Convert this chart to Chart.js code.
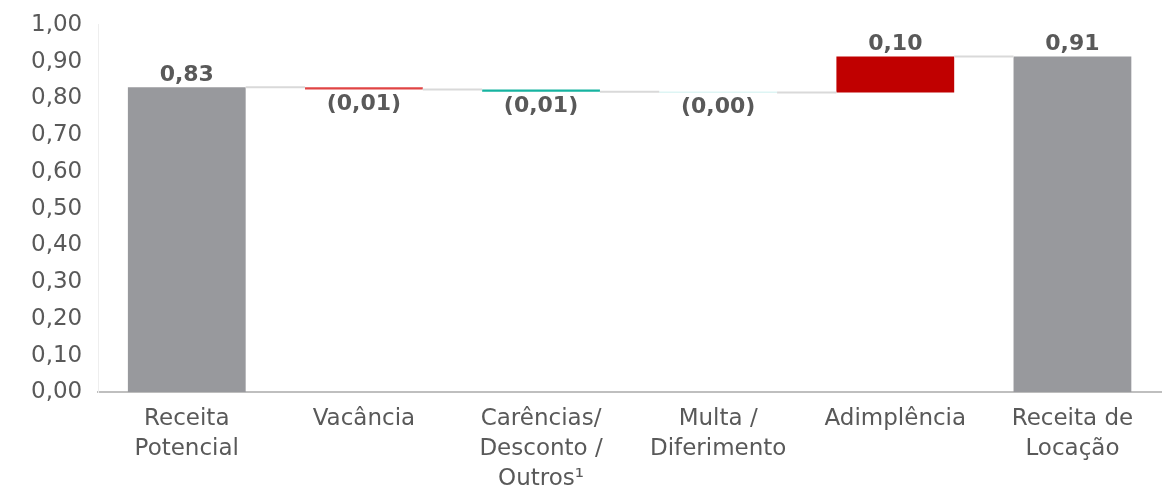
<!DOCTYPE html>
<html>
<head>
<meta charset="utf-8">
<script src="https://cdn.jsdelivr.net/npm/chart.js@4/dist/chart.umd.min.js"></script>
<style>
  html, body { margin: 0; padding: 0; background: #fff; }
  #wrap { width: 1163px; height: 493px; }
</style>
</head>
<body>
<div id="wrap"><canvas id="canvasWaterfall"></canvas></div>
<script>
"use strict";
// categorias e variações (R$/m²)
var categories = [
    ["Receita", "Potencial"],
    ["Vacância"],
    ["Carências/", "Desconto /", "Outros¹"],
    ["Multa /", "Diferimento"],
    ["Adimplência"],
    ["Receita de", "Locação"]
];
var deltas = [0.830, -0.006, -0.006, -0.002, 0.098, 0.914];
var isTotal = [true, false, false, false, false, true];
var valueLabels = ["0,83", "(0,01)", "(0,01)", "(0,00)", "0,10", "0,91"];
var yTicks = [0, 0.1, 0.2, 0.3, 0.4, 0.5, 0.6, 0.7, 0.8, 0.9, 1.0];

var barColors = ['#98999D', '#E04444', '#16B3A0', '#BDEBEA', '#C00000', '#98999D'];

// monta as barras flutuantes [inicio, fim]
var ranges = [];
var running = 0;
for (var i = 0; i < deltas.length; i++) {
    if (isTotal[i]) {
        ranges.push([0, deltas[i]]);
        running = deltas[i];
    } else {
        ranges.push([running, running + deltas[i]]);
        running = running + deltas[i];
    }
}

var fontName = "'DejaVu Sans', Verdana, sans-serif";

var waterfallExtras = {
    id: 'waterfallExtras',
    afterDatasetsDraw: function (chart) {
        var ctx = chart.ctx;
        var meta = chart.getDatasetMeta(0);
        var yScale = chart.scales.y;
        ctx.save();
        // linhas de ligação
        ctx.strokeStyle = '#D9D9D9';
        ctx.lineWidth = 2;
        for (var i = 0; i < ranges.length - 1; i++) {
            var a = meta.data[i], b = meta.data[i + 1];
            var yy = yScale.getPixelForValue(ranges[i][1]);
            ctx.beginPath();
            ctx.moveTo(a.x + a.width / 2, yy);
            ctx.lineTo(b.x - b.width / 2, yy);
            ctx.stroke();
        }
        // rótulos de valor
        ctx.fillStyle = '#595959';
        ctx.font = "bold 22px " + fontName;
        ctx.textAlign = 'center';
        for (var j = 0; j < ranges.length; j++) {
            var el = meta.data[j];
            var top = Math.max(ranges[j][0], ranges[j][1]);
            var bottom = Math.min(ranges[j][0], ranges[j][1]);
            if (deltas[j] >= 0) {
                ctx.textBaseline = 'bottom';
                ctx.fillText(valueLabels[j], el.x, yScale.getPixelForValue(top) - 1);
            } else {
                ctx.textBaseline = 'top';
                ctx.fillText(valueLabels[j], el.x, yScale.getPixelForValue(bottom) + 4);
            }
        }
        ctx.restore();
    }
};

new Chart(document.getElementById('canvasWaterfall'), {
    type: 'bar',
    data: {
        labels: categories,
        datasets: [{
            data: ranges,
            backgroundColor: barColors,
            borderWidth: 0,
            borderSkipped: false,
            categoryPercentage: 1,
            barPercentage: 0.665
        }]
    },
    options: {
        responsive: true,
        maintainAspectRatio: false,
        animation: false,
        layout: { padding: { top: 0, right: 2, left: 15, bottom: -13 } },
        plugins: {
            legend: { display: false },
            tooltip: { enabled: false }
        },
        scales: {
            x: {
                grid: { display: false, drawTicks: false },
                border: { color: '#BFBFBF', width: 2 },
                ticks: {
                    color: '#595959',
                    font: { family: fontName, size: 23, lineHeight: 1.3 },
                    padding: 12,
                    maxRotation: 0,
                    autoSkip: false
                }
            },
            y: {
                min: 0,
                max: 1,
                afterBuildTicks: function (axis) {
                    axis.ticks = yTicks.map(function (v) { return { value: v }; });
                },
                grid: { display: false, drawTicks: false },
                border: { color: '#EEEEEE', width: 1 },
                ticks: {
                    color: '#595959',
                    font: { family: fontName, size: 23, lineHeight: 0.77 },
                    padding: 16,
                    callback: function (v) { return v.toFixed(2).replace('.', ','); }
                }
            }
        }
    },
    plugins: [waterfallExtras]
});
</script>
</body>
</html>
